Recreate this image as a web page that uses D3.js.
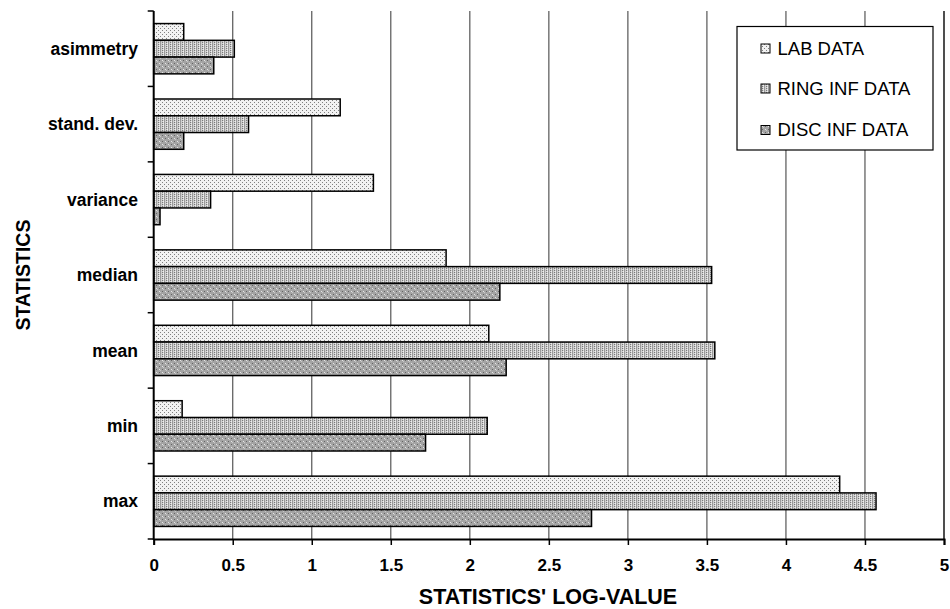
<!DOCTYPE html>
<html><head><meta charset="utf-8">
<script src="https://cdn.jsdelivr.net/npm/d3@7"></script>
<style>
html,body{margin:0;padding:0;background:#fff;}
svg{display:block;font-family:Arial,"Liberation Sans",sans-serif;}
</style></head>
<body>
<svg id="chart" width="950" height="609"></svg>
<script>
const categories = ["asimmetry","stand. dev.","variance","median","mean","min","max"];
const seriesNames = ["LAB DATA","RING INF DATA","DISC INF DATA"];
const labData  = [0.19, 1.18, 1.39, 1.85, 2.12, 0.18, 4.34];
const ringData = [0.51, 0.60, 0.36, 3.53, 3.55, 2.11, 4.57];
const discData = [0.38, 0.19, 0.04, 2.19, 2.23, 1.72, 2.77];
const xTicks = [0,0.5,1,1.5,2,2.5,3,3.5,4,4.5,5];
const xTitle = "STATISTICS' LOG-VALUE";
const yTitle = "STATISTICS";

const series = [labData, ringData, discData];
const patIds = ["patLab","patRing","patDisc"];

const svg = d3.select("#chart");
const m = {left:153.7, top:11, right:944, bottom:539};

// patterns
const defs = svg.append("defs");
function pat(id, w, h, bg, pts){
  const p = defs.append("pattern").attr("id",id).attr("patternUnits","userSpaceOnUse")
    .attr("width",w).attr("height",h);
  p.append("rect").attr("width",w).attr("height",h).attr("fill",bg);
  pts.forEach(d=>p.append("rect").attr("x",d[0]).attr("y",d[1]).attr("width",d[2]||1).attr("height",d[3]||1).attr("fill",d[4]));
}
pat("patLab",4,4,"#f2f2f2",[[0,0,1,1,"#808080"],[2,2,1,1,"#808080"]]);
pat("patRing",4,2,"#d0d0d0",[[0,0,1,2,"#9a9a9a"],[2,0,1,1,"#7a7a7a"],[3,1,1,1,"#eeeeee"]]);
pat("patDisc",6,6,"#a4a4a4",[[0,0,1,1,"#e6e6e6"],[3,3,1,1,"#e6e6e6"],[3,0,1,1,"#646464"],[0,3,1,1,"#646464"],[1,1,1,1,"#c8c8c8"],[4,4,1,1,"#c8c8c8"]]);

const x = d3.scaleLinear().domain([0,5]).range([m.left,m.right]);
const y = d3.scaleBand().domain(categories).range([m.top,m.bottom]).paddingInner(1/3).paddingOuter(1/6);
const ys = d3.scaleBand().domain(d3.range(3)).range([0,y.bandwidth()]);

// gridlines
svg.append("g").selectAll("line").data(xTicks.filter(d=>d>0)).join("line")
  .attr("x1",d=>x(d)).attr("x2",d=>x(d)).attr("y1",m.top).attr("y2",m.bottom)
  .attr("stroke",d=>d===5?"#222":"#555").attr("stroke-width",d=>d===5?1.6:1.2);

// bars
const g = svg.append("g");
categories.forEach((c,i)=>{
  series.forEach((s,j)=>{
    g.append("rect")
      .attr("x",x(0)).attr("y",y(c)+ys(j))
      .attr("width",x(s[i])-x(0)).attr("height",ys.bandwidth())
      .attr("fill",`url(#${patIds[j]})`).attr("stroke","#000").attr("stroke-width",1.5);
  });
});

// x axis
const xAxis = svg.append("g").attr("transform",`translate(0,${m.bottom})`)
  .call(d3.axisBottom(x).tickValues(xTicks).tickFormat(d3.format("")).tickSizeOuter(0).tickSize(6).tickPadding(14));
xAxis.select(".domain").attr("stroke","#000").attr("stroke-width",2);
xAxis.selectAll(".tick line").attr("stroke","#000").attr("stroke-width",1.5);
xAxis.selectAll(".tick text").attr("font-size",17).attr("font-weight","bold").attr("fill","#000")
  .attr("font-family","Arial, 'Liberation Sans', sans-serif");

// y axis: line + ticks at band boundaries
svg.append("line").attr("x1",m.left).attr("x2",m.left).attr("y1",m.top).attr("y2",m.bottom+1)
  .attr("stroke","#000").attr("stroke-width",2);
const bounds = d3.range(categories.length+1).map(i=>m.top+i*y.step());
svg.append("g").selectAll("line").data(bounds).join("line")
  .attr("x1",m.left-6).attr("x2",m.left).attr("y1",d=>d).attr("y2",d=>d)
  .attr("stroke","#000").attr("stroke-width",1.5);
svg.append("g").selectAll("text").data(categories).join("text")
  .attr("x",138).attr("y",d=>y(d)+y.bandwidth()/2).attr("dy","0.35em")
  .attr("text-anchor","end").attr("font-size",17.5).attr("font-weight","bold").text(d=>d);

// titles
svg.append("text").attr("x",548).attr("y",604).attr("text-anchor","middle")
  .attr("font-size",21.5).attr("font-weight","bold").text(xTitle);
svg.append("text").attr("transform",`translate(30,${(m.top+m.bottom)/2}) rotate(-90)`)
  .attr("text-anchor","middle").attr("font-size",19.5).attr("font-weight","bold").text(yTitle);

// legend
const lg = svg.append("g");
lg.append("rect").attr("x",737).attr("y",26.5).attr("width",196).attr("height",123.5)
  .attr("fill","#fff").attr("stroke","#000").attr("stroke-width",1.2);
const rowsY = [48.5, 88.5, 130];
seriesNames.forEach((n,j)=>{
  lg.append("rect").attr("x",761).attr("y",rowsY[j]-4.5).attr("width",9).attr("height",9)
    .attr("fill",`url(#${patIds[j]})`).attr("stroke","#000").attr("stroke-width",1);
  lg.append("text").attr("x",777.5).attr("y",rowsY[j]).attr("dy","0.35em")
    .attr("font-size",18.5).text(n);
});
</script>
</body></html>
